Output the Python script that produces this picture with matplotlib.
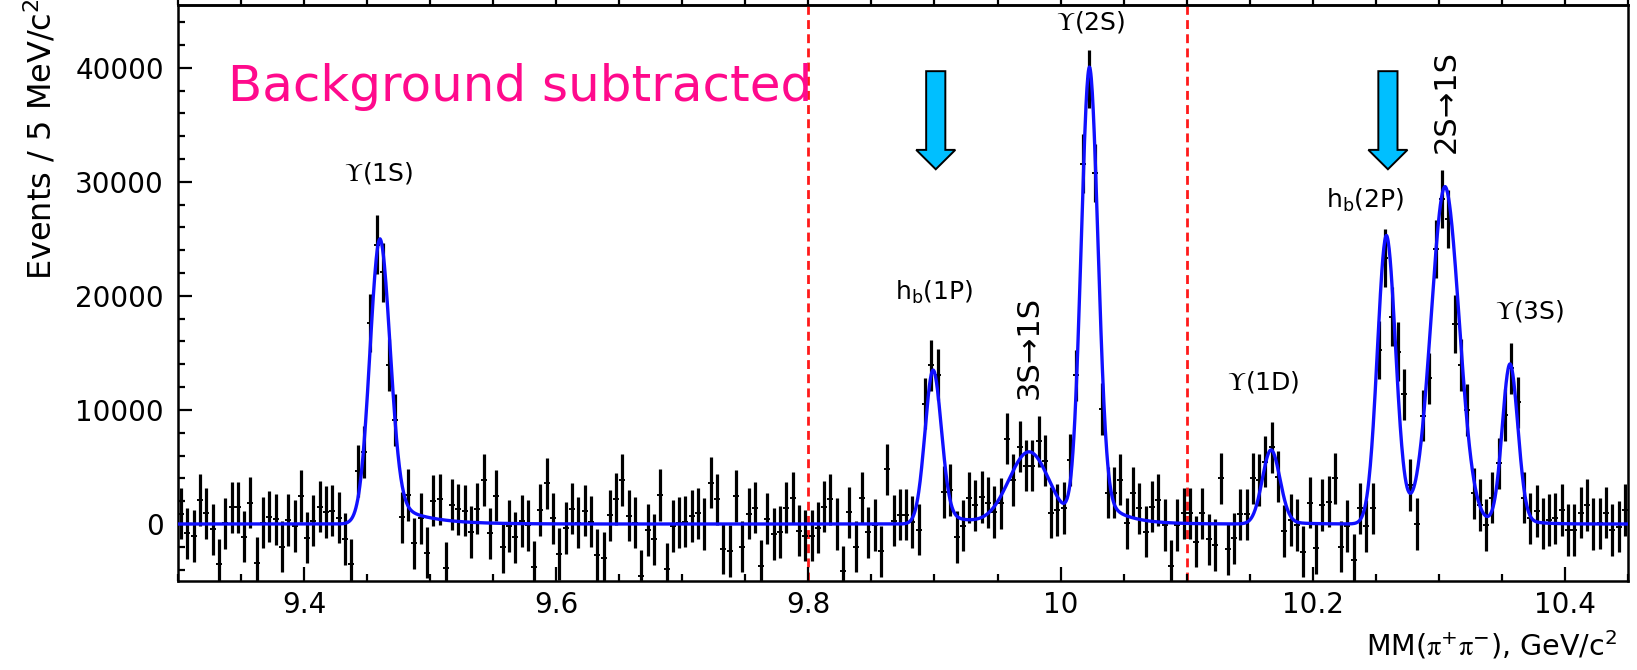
import numpy as np
import matplotlib
matplotlib.use("Agg")
import matplotlib.pyplot as plt
from matplotlib.ticker import MultipleLocator

plt.rcParams['font.family'] = ['DejaVu Sans']
plt.rcParams['mathtext.fontset'] = 'stix'
plt.rcParams['mathtext.default'] = 'regular'

# missing mass spectrum, 5 MeV bins starting at 9.3 GeV
bin_lo = 9.3
bin_w = 0.005

# background-subtracted events per bin
counts = [
    # 9.300 - 9.490
    900, -820, -1050, 2100, 940, -470, -3540, 60, 1460, 1460,
    -1110, 1870, -3390, 120, 640, 410, -1990, 350, -180, 2460,
    -1200, 290, 1520, 1050, 1170, 560, -1320, -3540, 4650, 6320,
    17600, 24500, 22050, 13950, 9120, 585, 2540, -1700,
    # 9.490 - 9.685
    500, -2510, 2050, 2160, -3860, 1700, 1290, 1170, -700, 1350,
    3860, -820, 2490, -2050, -180, -1170, 260, -120, -3740, 1230,
    3570, 500, -2630, -350, 1350, 120, 1170, 200, -2720, -2980,
    760, 2190, 3860, 730, 120, -4530, -530, -1350, 2540,
    # 9.685 - 9.870
    -3920, -180, 120, 200, 700, 940, 0, 3630, 2160, -2160,
    -2370, 2460, -1990, 910, 1430, -3680, 470, -880, -700, 1430,
    2310, -580, -1020, -1020, -320, 1520, 2160, 0, -4150, 1020,
    -1990, 2310, -730, -90, -2400, 4800, 290,
    # 9.870 - 10.060
    825, 825, 165, -500, 10560, 13900, 13100, 2800, 2970, -1150,
    -160, 2310, 1650, 2380, 1880, 1060, 1820, 7490, 3860, 6770,
    5120, 5120, 7260, 5540, 1000, 1230, 1400, 5600, 13040, 31600,
    39000, 30800, 10070, 2740, 2740, 3890, 70, 2740,
    # 10.060 - 10.250
    1370, -670, 1520, 2100, -90, -3680, -90, 940, 940, -1550,
    940, -1350, -1840, 4000, -2190, -1260, 850, 850, 4000, 3860,
    5470, 6730, 4150, -610, 350, -90, -2430, 1870, -2130, 1670,
    1960, 4000, -1990, -180, -3160, 1370, -180, 1370,
    # 10.250 - 10.450
    15260, 23300, 18190, 15120, 11370, 3420, 0, 9500, 12780, 24090,
    28500, 26730, 17540, 13950, 10000, 2690, 1670, -90, 2310, 5320,
    9560, 13650, 10670, 2310, 500, 1140, 60, 350, 500, 1230,
    -530, -530, 990, 1670, 0, 60, 990, -530, -230, 1230,
]
err_bkg = 2250     # typical error away from peaks
err_peak = 2550    # error on the tall peak bins

# fitted signal components
peak_mass = [9.4603, 9.8990, 9.9750, 10.0230, 10.1670, 10.2585, 10.3050, 10.3565]
peak_height = [25000, 13500, 6300, 40000, 6500, 25300, 29500, 14000]
peak_sigma = [0.0080, 0.0065, 0.0160, 0.0067, 0.0070, 0.0072, 0.0112, 0.0062]
tail_frac = [0.12, 0.10, 0.0, 0.10, 0.06, 0.08, 0.04, 0.06]
tail_tau = [0.025, 0.020, 0.020, 0.018, 0.015, 0.015, 0.015, 0.012]

# region boundaries and the h_b arrows
region_cuts = [9.8, 10.1]
arrow_x = [9.901, 10.2596]
arrow_top, arrow_tip = 39700, 31100

labels = [
    (r'$\mathrm{\Upsilon}$(1S)', 9.4594, 30800, 0, 18),
    (r'h$_b$(1P)', 9.900, 20300, 0, 18),
    ('3S→1S', 9.975, 15500, 90, 22),
    (r'$\mathrm{\Upsilon}$(2S)', 10.024, 44000, 0, 18),
    (r'$\mathrm{\Upsilon}$(1D)', 10.161, 12450, 0, 18),
    (r'h$_b$(2P)', 10.2414, 28400, 0, 18),
    ('2S→1S', 10.306, 37000, 90, 22),
    (r'$\mathrm{\Upsilon}$(3S)', 10.372, 18700, 0, 18),
]


def line_shape(x, m, h, s, f, tau):
    core = np.exp(-0.5 * ((x - m) / s) ** 2)
    tail = np.where(x < m, core, np.exp(-(x - m) / tau))
    return h / (1 + f) * (core + f * tail)


y = np.array(counts, dtype=float)
x = bin_lo + bin_w * (np.arange(len(y)) + 0.5)
yerr = np.where(y > 15000, err_peak, err_bkg)

xf = np.linspace(9.3, 10.45, 3000)
fit = np.zeros_like(xf)
for p in zip(peak_mass, peak_height, peak_sigma, tail_frac, tail_tau):
    fit += line_shape(xf, *p)

fig = plt.figure(figsize=(16.37, 6.70), dpi=100)
ax = fig.add_axes([0.1087, 0.1328, 0.8858, 0.8597])

for xc in region_cuts:
    ax.axvline(xc, color='#ff1a1a', lw=2.0, ls=(0, (3.2, 1.9)), zorder=1)

ax.errorbar(x, y, yerr=yerr, fmt='_', color='black', ms=5, mew=1.4,
            elinewidth=2.3, capsize=0, zorder=2)
ax.plot(xf, fit, color='#1010ff', lw=2.4, zorder=3)

for xa in arrow_x:
    ax.arrow(xa, arrow_top, 0, arrow_tip - arrow_top, width=0.0152,
             head_width=0.031, head_length=1700, length_includes_head=True,
             fc='#00bfff', ec='black', lw=1.4, zorder=4)

for txt, lx, ly, rot, fs in labels:
    ax.text(lx, ly, txt, fontsize=fs, ha='center', va='center', rotation=rot)

ax.text(9.340, 37100, 'Background subtracted', fontsize=36, color='#ff0a8c',
        ha='left', va='baseline')

ax.set_xlim(9.3, 10.45)
ax.set_ylim(-5000, 45500)
ax.xaxis.set_minor_locator(MultipleLocator(0.05))
ax.yaxis.set_minor_locator(MultipleLocator(2000))
ax.set_xticks([9.4, 9.6, 9.8, 10.0, 10.2, 10.4], ['9.4', '9.6', '9.8', '10', '10.2', '10.4'])
ax.set_yticks([0, 10000, 20000, 30000, 40000], ['0', '10000', '20000', '30000', '40000'])

ax.tick_params(which='both', direction='in', labelsize=20, width=1.6)
ax.tick_params(which='major', length=10)
ax.tick_params(which='minor', length=5)
ax.tick_params(axis='x', pad=7)
ax.tick_params(axis='y', pad=10)
for sp in ax.spines.values():
    sp.set_linewidth(1.8)

# frame along the top edge with short upward ticks
top = ax.secondary_xaxis('top')
top.xaxis.set_major_locator(MultipleLocator(0.05))
top.tick_params(direction='out', length=6, width=1.6, labeltop=False)
top.spines['top'].set_linewidth(1.8)

fig.text(0.9880, 0.021, r'MM($\mathrm{\pi}^{+}\mathrm{\pi}^{-}$), GeV/c$^{2}$',
         fontsize=20.5, ha='right', va='baseline')
fig.text(0.025, 1 - 280 / 670, 'Events / 5 MeV/c$^{2}$', rotation=90,
         ha='center', va='bottom', fontsize=23)

fig.savefig('out.png', dpi=100)
